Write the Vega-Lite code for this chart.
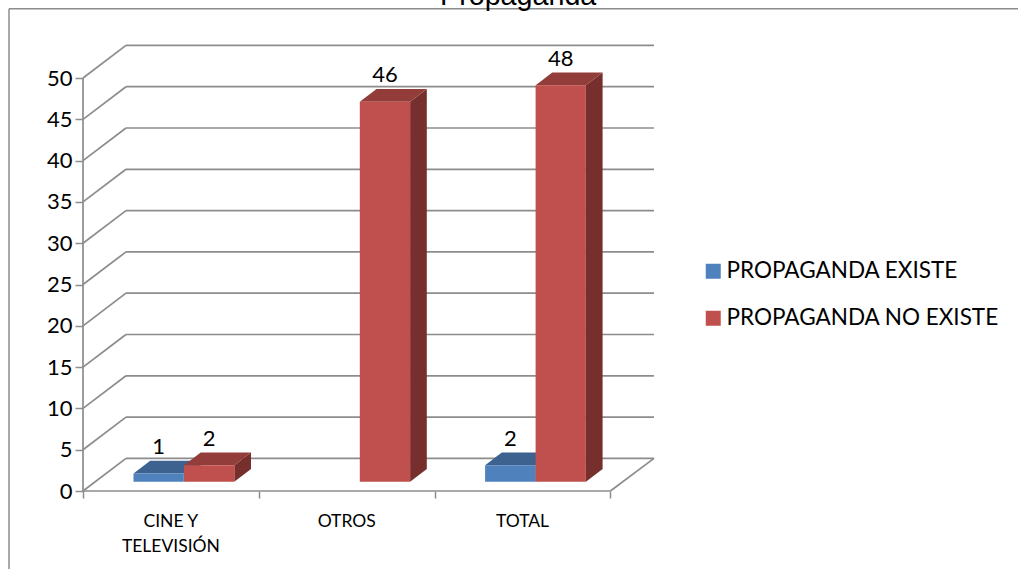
{
"$schema":"https://vega.github.io/schema/vega-lite/v6.json",
"autosize":{"type":"none"},
"padding":{"left":83,"top":45,"right":364,"bottom":78},
"width":571,"height":446,
"background":"white",
"config":{"view":{"stroke":null},"font":"Lato"},
"title":{"text":"Propaganda","anchor":"start","frame":"group","dx":357,"dy":30,"font":"Liberation Sans","fontSize":28.7,"fontWeight":"normal","color":"#000000","baseline":"alphabetic"},
"datasets":{
"bars":[
{"category":"CINE Y TELEVISIÓN","series":"PROPAGANDA EXISTE","value":1},
{"category":"TOTAL","series":"PROPAGANDA EXISTE","value":2},
{"category":"CINE Y TELEVISIÓN","series":"PROPAGANDA NO EXISTE","value":2},
{"category":"OTROS","series":"PROPAGANDA NO EXISTE","value":46},
{"category":"TOTAL","series":"PROPAGANDA NO EXISTE","value":48}
],
"ticks":[{"v":0},{"v":5},{"v":10},{"v":15},{"v":20},{"v":25},{"v":30},{"v":35},{"v":40},{"v":45},{"v":50}],
"one":[{"frame":1}]
},
"layer":[
{"data":{"name":"ticks"},
 "transform":[{"calculate":"datum.v+3.95","as":"vb"},{"calculate":"43","as":"xa"},{"calculate":"0","as":"x0"},{"calculate":"571","as":"xe"}],
 "layer":[
  {"mark":{"type":"rule","color":"#8c8c8c","strokeWidth":1.7},
   "encoding":{"x":{"field":"x0","type":"quantitative","title":null,"scale":{"domain":[0,571],"nice":false,"zero":false},
     "axis":{"values":[0,175.8,351.6,527.4],"title":null,"labels":false,"domain":false,"grid":false,"tickColor":"#8c8c8c","tickSize":7,"tickWidth":1.5}},
    "x2":{"field":"xa"},
    "y":{"field":"v","type":"quantitative","title":null,"scale":{"domain":[0,54],"nice":false,"zero":false},
     "axis":{"values":[0,5,10,15,20,25,30,35,40,45,50],"title":null,"domain":false,"grid":false,"tickColor":"#8c8c8c","tickSize":8,"tickWidth":1.5,"labelFont":"Lato","labelFontSize":22,"labelColor":"#000000","labelPadding":3}},
    "y2":{"field":"vb"}}},
  {"mark":{"type":"rule","color":"#8c8c8c","strokeWidth":1.7},
   "encoding":{"x":{"field":"xa","type":"quantitative","title":null},"x2":{"field":"xe"},"y":{"field":"vb","type":"quantitative","title":null}}}
 ]},
{"data":{"name":"one"},
 "layer":[
 {"mark":{"type":"rule","color":"#8c8c8c","strokeWidth":1.5,"clip":false},
  "encoding":{"x":{"datum":-74,"type":"quantitative","title":null},"y":{"datum":-10,"type":"quantitative","title":null},"y2":{"datum":58.4}}},
 {"mark":{"type":"rule","color":"#8c8c8c","strokeWidth":1.5,"clip":false},
  "encoding":{"x":{"datum":-74,"type":"quantitative","title":null},"x2":{"datum":935},"y":{"datum":58.4,"type":"quantitative","title":null}}},
 {"mark":{"type":"rule","color":"#8c8c8c","strokeWidth":1.7},
  "encoding":{"x":{"datum":0,"type":"quantitative","title":null},"y":{"datum":0,"type":"quantitative","title":null},"y2":{"datum":50}}},
 {"mark":{"type":"rule","color":"#8c8c8c","strokeWidth":1.7},
  "encoding":{"x":{"datum":0,"type":"quantitative","title":null},"x2":{"datum":527.4},"y":{"datum":0,"type":"quantitative","title":null}}},
 {"mark":{"type":"rule","color":"#8c8c8c","strokeWidth":1.7},
  "encoding":{"x":{"datum":527.4,"type":"quantitative","title":null},"x2":{"datum":571},"y":{"datum":0,"type":"quantitative","title":null},"y2":{"datum":3.95}}}
 ]},
{"data":{"name":"bars"},
 "transform":[
  {"calculate":"indexof(['CINE Y TELEVISIÓN','OTROS','TOTAL'],datum.category)","as":"i"},
  {"calculate":"101+175.8*datum.i-(datum.series==='PROPAGANDA EXISTE'?50.5:0)","as":"xl"},
  {"calculate":"datum.xl+50.3","as":"xr"},
  {"calculate":"datum.value+1.13","as":"t"},
  {"calculate":"1.13","as":"b"},
  {"calculate":"(datum.xl+datum.xr)/2","as":"xc"},
  {"calculate":"datum.t+3.2","as":"ly"}
 ],
 "layer":[
  {"transform":[{"calculate":"[0,1]","as":"k"},{"flatten":["k"]},
    {"calculate":"datum.xr+16.7*datum.k","as":"sx"},{"calculate":"datum.t+1.54*datum.k","as":"sy"},{"calculate":"datum.b+1.54*datum.k","as":"sy2"}],
   "mark":{"type":"area","orient":"vertical"},
   "encoding":{"x":{"field":"sx","type":"quantitative","title":null},"y":{"field":"sy","type":"quantitative","title":null},"y2":{"field":"sy2"},"detail":{"field":"xl"},
    "fill":{"condition":{"test":"datum.series==='PROPAGANDA EXISTE'","value":"#345A86"},"value":"#772F2D"}}},
  {"transform":[{"calculate":"[0,1]","as":"k"},{"flatten":["k"]},
    {"calculate":"datum.xl+16.7*datum.k","as":"tx"},{"calculate":"datum.xr+16.7*datum.k","as":"tx2"},{"calculate":"datum.t+1.54*datum.k","as":"ty"}],
   "mark":{"type":"area","orient":"horizontal"},
   "encoding":{"y":{"field":"ty","type":"quantitative","title":null},"x":{"field":"tx","type":"quantitative","title":null},"x2":{"field":"tx2"},"detail":{"field":"xl"},
    "fill":{"condition":{"test":"datum.series==='PROPAGANDA EXISTE'","value":"#3D628F"},"value":"#933D3A"}}},
  {"mark":{"type":"rect"},
   "encoding":{"x":{"field":"xl","type":"quantitative","title":null},"x2":{"field":"xr"},"y":{"field":"t","type":"quantitative","title":null},"y2":{"field":"b"},
    "color":{"field":"series","type":"nominal","scale":{"domain":["PROPAGANDA EXISTE","PROPAGANDA NO EXISTE"],"range":["#4F81BD","#C0504D"]},
     "legend":{"title":null,"orient":"none","legendX":619,"legendY":215,"symbolType":"square","symbolSize":225,"symbolStrokeWidth":0,"symbolOpacity":1,"labelFont":"Lato","labelFontSize":22.5,"labelColor":"#000000","labelLimit":400,"labelOffset":2,"rowPadding":24,"padding":0}}}},
  {"mark":{"type":"text","font":"Lato","fontSize":22,"color":"#000000","baseline":"middle","align":"center"},
   "encoding":{"x":{"field":"xc","type":"quantitative","title":null},"y":{"field":"ly","type":"quantitative","title":null},"text":{"field":"value","type":"quantitative"}}},
  {"transform":[{"filter":"datum.series==='PROPAGANDA NO EXISTE'"},
    {"calculate":"(datum.i+0.5)*175.8","as":"cx"},{"calculate":"-2.65","as":"cy"},{"calculate":"replace(datum.category,'Y ','Y|')","as":"lab"}],
   "mark":{"type":"text","font":"Lato","fontSize":17.5,"color":"#000000","baseline":"top","align":"center","lineBreak":"|","lineHeight":25},
   "encoding":{"x":{"field":"cx","type":"quantitative","title":null},"y":{"field":"cy","type":"quantitative","title":null},"text":{"field":"lab","type":"nominal"}}}
 ]}
]
}
